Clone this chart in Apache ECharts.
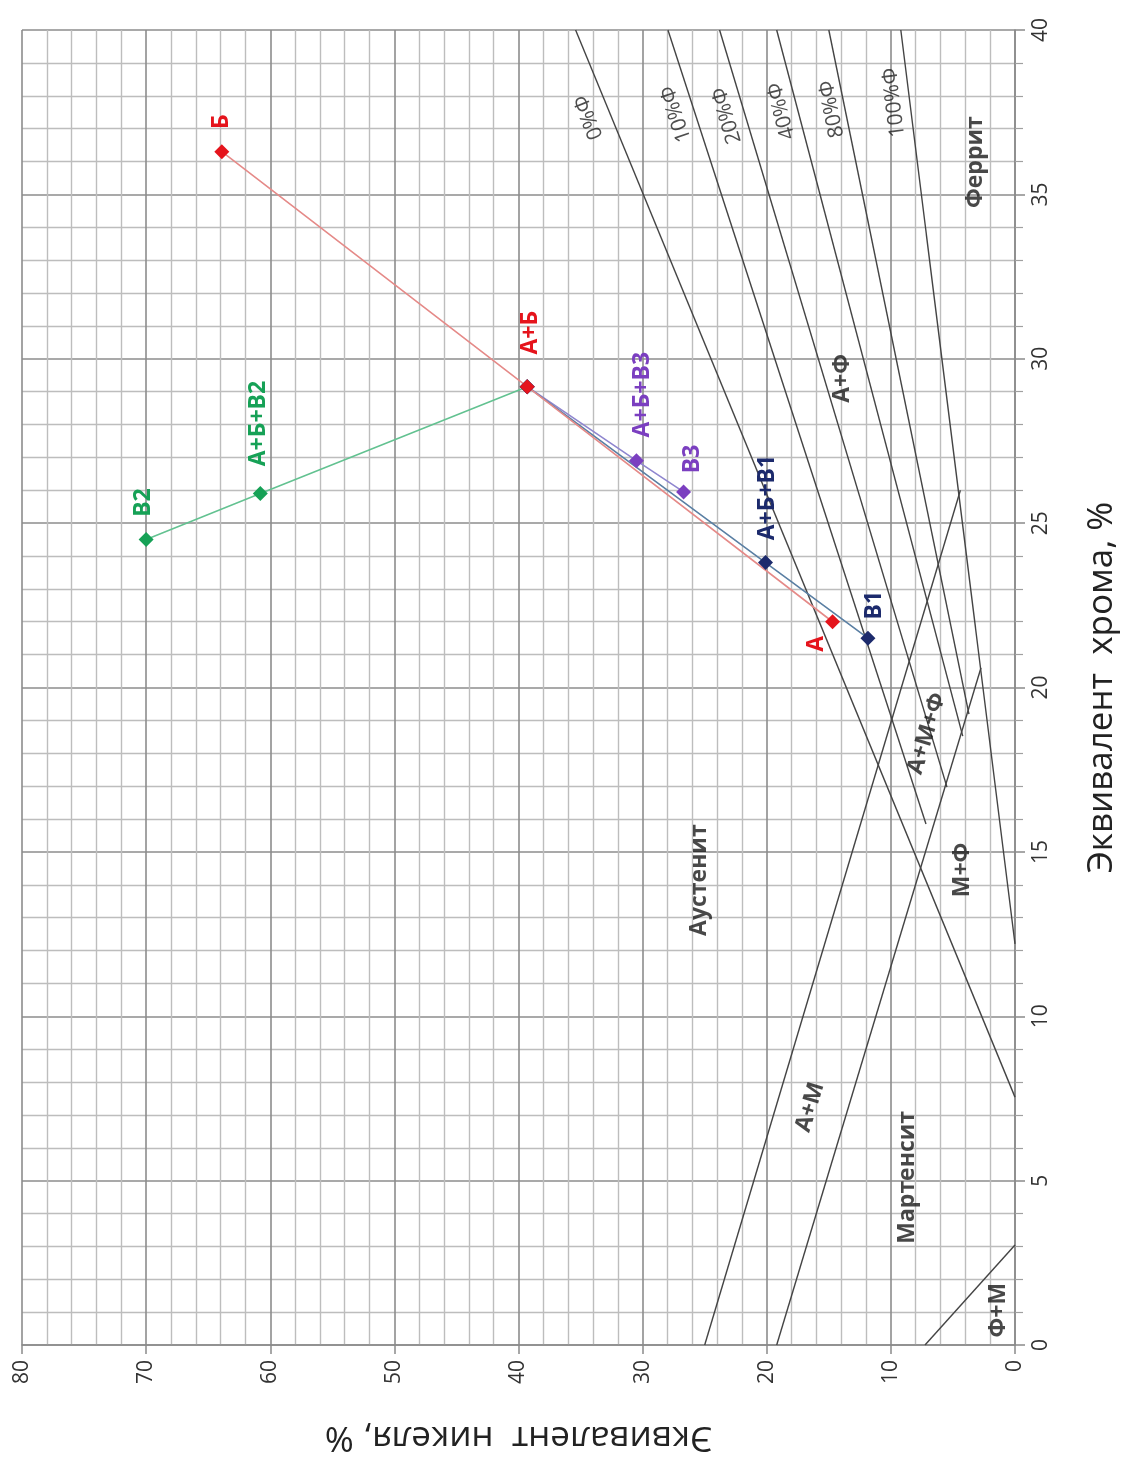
<!DOCTYPE html>
<html>
<head>
<meta charset="utf-8">
<script src="https://cdn.jsdelivr.net/npm/echarts@6/dist/echarts.min.js"></script>
<style>
  html, body { margin: 0; padding: 0; background: #ffffff; }
  #chart { width: 1127px; height: 1463px; }
</style>
</head>
<body>
<div id="chart"></div>
<script>
// Axis ticks (Ni equivalent along the bottom, Cr equivalent on the right)
const niTicks = [0, 10, 20, 30, 40, 50, 60, 70, 80];
const crTicks = [0, 5, 10, 15, 20, 25, 30, 35, 40];

// Component points: Ni and Cr equivalents, %
const pointNames = ['Б', 'А+Б', 'А', 'В2', 'А+Б+В2', 'А+Б+В3', 'В3', 'А+Б+В1', 'В1'];
const pointNi = [63.9, 39.3, 14.7, 70.0, 60.8, 30.5, 26.7, 20.1, 11.85];
const pointCr = [36.3, 29.15, 22.0, 24.5, 25.9, 26.9, 25.95, 23.8, 21.5];

// Mixing paths between components
const pathRed = ['Б', 'А+Б', 'А'];
const pathGreen = ['В2', 'А+Б+В2', 'А+Б'];
const pathPurple = ['А+Б', 'А+Б+В3', 'В3'];
const pathBlue = ['А+Б', 'А+Б+В1', 'В1'];

// Phase boundaries of the Schaeffler diagram: [start, end]
const boundaryNames = ['0%Ф', '10%Ф', '20%Ф', '40%Ф', '80%Ф', '100%Ф', 'А/А+М', 'А+М/М', 'М/Ф+М'];
const boundaryNi = [[35.4, 0], [27.96, 7.17], [23.8, 5.48], [19.2, 4.21], [15.0, 3.71], [9.2, 0], [25.0, 4.4], [19.2, 2.74], [7.25, 0]];
const boundaryCr = [[40, 7.54], [40, 15.85], [40, 16.97], [40, 18.52], [40, 19.19], [40, 12.2], [0, 26.0], [0, 20.6], [0, 3.04]];

// Ferrite-content captions along the boundary lines
const ferriteLabels = ['0%Ф', '10%Ф', '20%Ф', '40%Ф', '80%Ф', '100%Ф'];
const ferriteLabelNi = [34.33, 27.3, 23.2, 18.8, 14.75, 9.75];
const ferriteLabelCr = [37.35, 37.45, 37.4, 37.54, 37.6, 37.8];

// Phase region captions
const regionLabels = ['Феррит', 'А+Ф', 'Аустенит', 'А+М+Ф', 'М+Ф', 'А+М', 'Мартенсит', 'Ф+М'];
const regionNi = [3.22, 13.94, 25.4, 7.1, 4.27, 16.5, 8.7, 1.37];
const regionCr = [35.98, 29.4, 14.14, 18.6, 14.45, 7.24, 5.1, 1.06];

// ---- styling ----
const FONT = 'Open Sans';
const ferriteAngles = [112, 108.6, 106.7, 104.7, 101.6, 97];
const regionAngles = [90, 90, 90, 73, 90, 73, 90, 90];
const pathStyles = [
  { path: pathGreen, marker: '#16a156', line: '#63c291', labels: ['В2', 'А+Б+В2'] },
  { path: pathPurple, marker: '#7b3fc0', line: '#8f86cf', labels: ['А+Б+В3', 'В3'] },
  { path: pathBlue, marker: '#1c2a6c', line: '#5a7fa3', labels: ['А+Б+В1', 'В1'] },
  { path: pathRed, marker: '#e5141c', line: '#e58a88', labels: ['Б', 'А+Б', 'А'] }
];
// label centre offsets from the marker, px
const labelOffsets = {
  'Б': [0, -30], 'А+Б': [3, -54], 'А': [-16, 22], 'В2': [-3, -37], 'А+Б+В2': [-2, -70],
  'А+Б+В3': [6, -66], 'В3': [9, -33], 'А+Б+В1': [2, -65], 'В1': [7, -33]
};
const SYMBOL = 15;

function pointOf(name) {
  const i = pointNames.indexOf(name);
  return [pointNi[i], pointCr[i]];
}

const series = [];

// phase boundary lines
boundaryNames.forEach(function (name, i) {
  series.push({
    name: name,
    type: 'line',
    silent: true,
    symbol: 'none',
    z: 2,
    lineStyle: { color: '#444444', width: 1.4 },
    data: [[boundaryNi[i][0], boundaryCr[i][0]], [boundaryNi[i][1], boundaryCr[i][1]]]
  });
});

// ferrite captions
series.push({
  type: 'scatter',
  silent: true,
  symbolSize: 0,
  z: 3,
  data: ferriteLabels.map(function (t, i) {
    return {
      name: t,
      value: [ferriteLabelNi[i], ferriteLabelCr[i]],
      label: {
        show: true, formatter: t, position: [0, 0], align: 'center', verticalAlign: 'middle',
        rotate: ferriteAngles[i], fontFamily: FONT, fontSize: 21, color: '#222222'
      }
    };
  })
});

// region captions
series.push({
  type: 'scatter',
  silent: true,
  symbolSize: 0,
  z: 3,
  data: regionLabels.map(function (t, i) {
    return {
      name: t,
      value: [regionNi[i], regionCr[i]],
      label: {
        show: true, formatter: t, position: [0, 0], align: 'center', verticalAlign: 'middle',
        rotate: regionAngles[i], fontFamily: FONT, fontWeight: 'bold', fontSize: 23, color: '#1a1a1a'
      }
    };
  })
});

// mixing paths with component markers
pathStyles.forEach(function (ps) {
  series.push({
    type: 'line',
    symbol: 'diamond',
    symbolSize: SYMBOL,
    z: 5,
    itemStyle: { color: ps.marker },
    lineStyle: { color: ps.line, width: 1.6 },
    data: ps.path.map(function (n) {
      const showLabel = ps.labels.indexOf(n) >= 0;
      const off = labelOffsets[n] || [0, 0];
      return {
        name: n,
        value: pointOf(n),
        label: {
          show: showLabel, formatter: n,
          position: [SYMBOL / 2 + off[0], SYMBOL / 2 + off[1]],
          align: 'center', verticalAlign: 'middle', rotate: 90,
          fontFamily: FONT, fontWeight: 'bold', fontSize: 23, color: ps.marker
        }
      };
    })
  });
});

const chart = echarts.init(document.getElementById('chart'), null, { renderer: 'canvas' });
chart.setOption({
  animation: false,
  backgroundColor: '#ffffff',
  grid: { left: 22, right: 112, top: 30, bottom: 118, containLabel: false, outerBoundsMode: 'none' },
  xAxis: {
    type: 'value',
    min: niTicks[0], max: niTicks[niTicks.length - 1], interval: niTicks[1] - niTicks[0],
    inverse: true,
    position: 'bottom',
    name: 'Эквивалент  никеля, %',
    nameLocation: 'middle', nameGap: 74, nameRotate: 180,
    nameTextStyle: { fontFamily: FONT, fontSize: 35, color: '#222' },
    axisLine: { show: true, onZero: false, lineStyle: { color: '#8a8a8a', width: 1.5 } },
    axisTick: { show: true, length: 9, lineStyle: { color: '#8a8a8a', width: 1.5 } },
    minorTick: { show: false, splitNumber: 5 },
    axisLabel: { rotate: 90, margin: 15, fontFamily: FONT, fontSize: 21, color: '#333' },
    splitLine: { show: true, lineStyle: { color: '#8c8c8c', width: 1.6 } },
    minorSplitLine: { show: true, lineStyle: { color: '#bdbdbd', width: 1.4 } }
  },
  yAxis: {
    type: 'value',
    min: crTicks[0], max: crTicks[crTicks.length - 1], interval: crTicks[1] - crTicks[0],
    position: 'right',
    name: 'Эквивалент  хрома, %',
    nameLocation: 'middle', nameGap: 70, nameRotate: 90,
    nameTextStyle: { fontFamily: FONT, fontSize: 35, color: '#222' },
    axisLine: { show: true, onZero: false, lineStyle: { color: '#8a8a8a', width: 1.5 } },
    axisTick: { show: true, length: 10, lineStyle: { color: '#8a8a8a', width: 1.5 } },
    minorTick: { show: true, splitNumber: 5, length: 8, lineStyle: { color: '#a0a0a0', width: 1.2 } },
    axisLabel: { rotate: 90, margin: 16, fontFamily: FONT, fontSize: 21, color: '#333' },
    splitLine: { show: true, lineStyle: { color: '#8c8c8c', width: 1.6 } },
    minorSplitLine: { show: true, lineStyle: { color: '#bdbdbd', width: 1.4 } }
  },
  series: series
});
</script>
</body>
</html>
